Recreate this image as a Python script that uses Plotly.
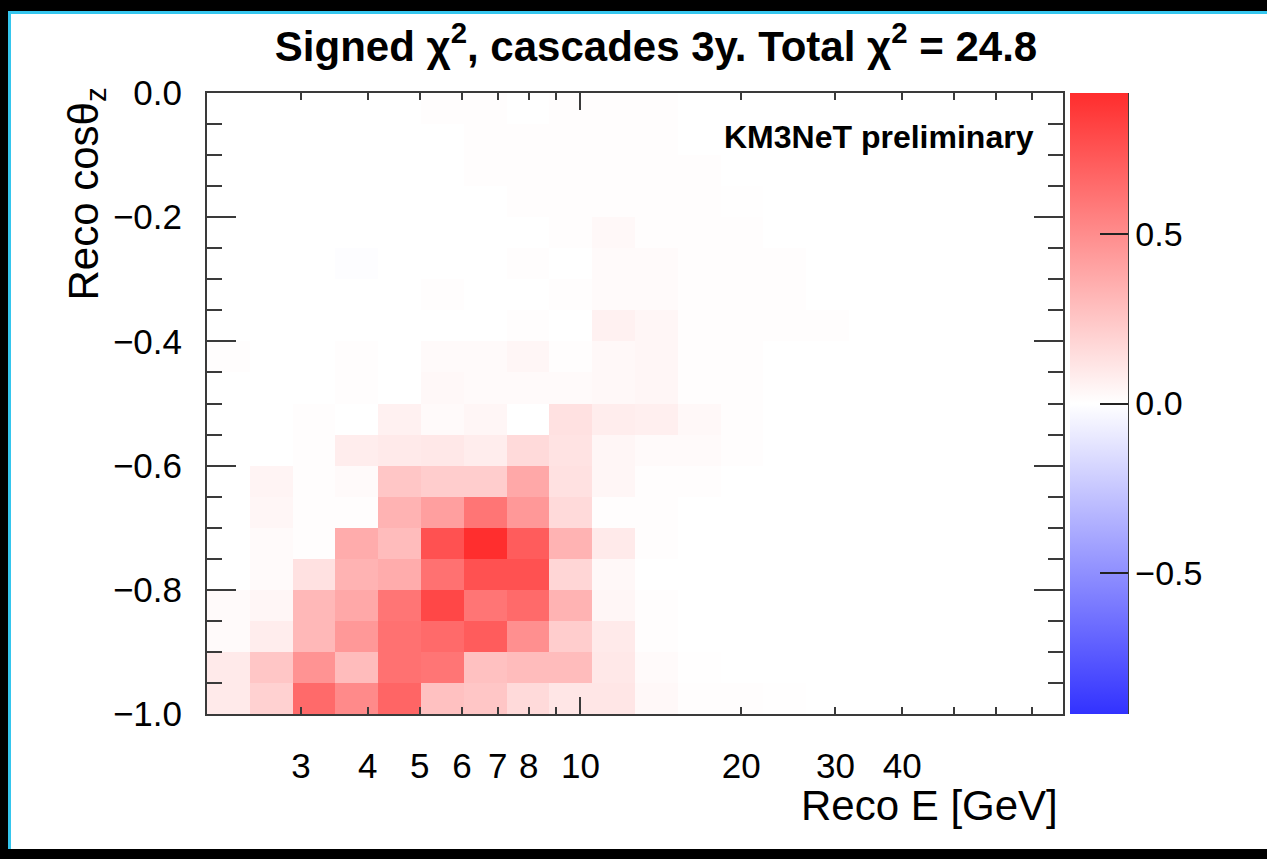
import numpy as np
import plotly.graph_objects as go

# ---- binning: 20 log-spaced energy bins (2-80 GeV) x 20 cos(theta) bins ----
E_MIN, E_MAX, N_E = 2.0, 80.0, 20
energy_edges = np.logspace(np.log10(E_MIN), np.log10(E_MAX), N_E + 1)
cos_edges = np.round(np.linspace(-1.0, 0.0, 21), 3)

# ---- signed chi2 per bin; rows from cos = -1.0 (bottom) up to 0.0 ----
signed_chi2 = [
    [0.09, 0.20, 0.65, 0.51, 0.67, 0.27, 0.25, 0.16, 0.11, 0.11, 0.03, 0.01, 0.01, 0.005, 0, 0, 0, 0, 0, 0],
    [0.09, 0.25, 0.47, 0.29, 0.62, 0.60, 0.27, 0.29, 0.29, 0.10, 0.02, 0.005, 0, 0, 0, 0, 0, 0, 0, 0],
    [0.02, 0.08, 0.31, 0.45, 0.62, 0.65, 0.71, 0.49, 0.22, 0.09, 0.01, 0, 0, 0, 0, 0, 0, 0, 0, 0],
    [0.02, 0.04, 0.31, 0.38, 0.60, 0.80, 0.60, 0.65, 0.33, 0.04, 0.01, 0, 0, 0, 0, 0, 0, 0, 0, 0],
    [0, 0.02, 0.13, 0.33, 0.36, 0.62, 0.76, 0.76, 0.18, 0.03, 0, 0, 0, 0, 0, 0, 0, 0, 0, 0],
    [0, 0.02, 0.01, 0.36, 0.29, 0.76, 0.91, 0.71, 0.33, 0.09, 0.01, 0, 0, 0, 0, 0, 0, 0, 0, 0],
    [0, 0.04, 0.01, 0.01, 0.33, 0.42, 0.60, 0.45, 0.16, 0.01, 0.01, 0, 0, 0, 0, 0, 0, 0, 0, 0],
    [0, 0.05, 0.01, 0.02, 0.25, 0.22, 0.22, 0.38, 0.13, 0.04, 0.01, 0.01, 0, 0, 0, 0, 0, 0, 0, 0],
    [0, 0, 0.01, 0.08, 0.09, 0.10, 0.08, 0.16, 0.12, 0.04, 0.02, 0.02, 0.01, 0, 0, 0, 0, 0, 0, 0],
    [0, 0, 0.01, 0, 0.06, 0.02, 0.04, 0, 0.13, 0.08, 0.07, 0.03, 0.01, 0, 0, 0, 0, 0, 0, 0],
    [0, 0, 0, 0.01, 0, 0.03, 0.02, 0.02, 0.02, 0.03, 0.04, 0.01, 0.01, 0, 0, 0, 0, 0, 0, 0],
    [0.01, 0, 0, 0.01, 0, 0.02, 0.02, 0.04, 0.01, 0.03, 0.04, 0.01, 0.01, 0, 0, 0, 0, 0, 0, 0],
    [0, 0, 0, 0, 0, 0, 0, 0.01, 0, 0.06, 0.04, 0.01, 0.01, 0.01, 0.01, 0, 0, 0, 0, 0],
    [0, 0, 0, 0, 0, 0.01, 0, 0, 0.01, 0.02, 0.02, 0.01, 0.01, 0.01, 0, 0, 0, 0, 0, 0],
    [0, 0, 0, -0.01, 0, 0, 0, 0.01, 0, 0.02, 0.02, 0.01, 0.01, 0.01, 0, 0, 0, 0, 0, 0],
    [0, 0, 0, 0, 0, 0, 0, 0, 0.01, 0.03, 0.01, 0.01, 0.01, 0, 0, 0, 0, 0, 0, 0],
    [0, 0, 0, 0, 0, 0, 0, 0.01, 0.01, 0.01, 0.01, 0.01, 0.005, 0, 0, 0, 0, 0, 0, 0],
    [0, 0, 0, 0, 0, 0, 0.01, 0.01, 0.01, 0.01, 0.01, 0.01, 0, 0, 0, 0, 0, 0, 0, 0],
    [0, 0, 0, 0, 0, 0, 0.01, 0.01, 0.01, 0.01, 0.01, 0, 0, 0, 0, 0, 0, 0, 0, 0],
    [0, 0, 0, 0, 0, 0.01, 0.01, 0, 0.01, 0.01, 0.01, 0, 0, 0, 0, 0, 0, 0, 0, 0],
]

x_label_vals = [3, 4, 5, 6, 7, 8, 10, 20, 30, 40]
x_unlabeled_vals = [9, 50, 60, 70]
z_limit = 0.915
total_chi2 = 24.8

# ---- page geometry (pixels) ----
W, H = 1267, 859
L, R, T, B = 207, 1063, 93, 714
PW, PH = R - L, B - T


def px(xp):
    return (xp - L) / PW


def py(yp):
    return (B - yp) / PH


FONT = "Liberation Sans, Arial, Helvetica, sans-serif"
AX = "#3a3a3a"

fig = go.Figure()
fig.add_trace(go.Heatmap(
    x=energy_edges, y=cos_edges, z=signed_chi2,
    zmin=-z_limit, zmax=z_limit,
    colorscale=[[0.0, "rgb(50,50,255)"], [0.5, "rgb(255,255,255)"], [1.0, "rgb(255,45,45)"]],
    colorbar=dict(
        x=px(1070), xanchor="left", xpad=0, ypad=0,
        y=0.5, yanchor="middle", len=1, lenmode="fraction",
        thickness=58, thicknessmode="pixels",
        outlinewidth=0,
        tickvals=[-0.5, 0.0, 0.5], tickformat=".1f",
        ticks="inside", ticklen=28, tickwidth=2, tickcolor="#222",
        tickfont=dict(family=FONT, size=34, color="black"),
    ),
    hoverinfo="skip",
))
# companion axes: long decade tick at 10 GeV, and short unlabelled ticks
fig.add_trace(go.Scatter(x=[], y=[], xaxis="x2", yaxis="y", showlegend=False, hoverinfo="skip"))
fig.add_trace(go.Scatter(x=[], y=[], xaxis="x3", yaxis="y", showlegend=False, hoverinfo="skip"))

xrange_log = [np.log10(E_MIN), np.log10(E_MAX)]
companion = dict(
    type="log", range=xrange_log, overlaying="x", anchor="y",
    tickmode="array", ticks="inside", tickwidth=2, tickcolor=AX, mirror="ticks",
    showline=False, showticklabels=False, showgrid=False, zeroline=False,
)
fig.update_layout(
    width=W, height=H,
    margin=dict(l=L, r=W - R, t=T, b=H - B, autoexpand=False),
    paper_bgcolor="black", plot_bgcolor="white",
    font=dict(family=FONT, color="black"),
    showlegend=False,
    xaxis=dict(
        type="log", range=xrange_log,
        tickmode="array", tickvals=x_label_vals, ticktext=[str(v) for v in x_label_vals],
        ticks="inside", ticklen=7, tickwidth=2, tickcolor=AX,
        showline=True, linecolor=AX, linewidth=2, mirror="ticks",
        showgrid=False, zeroline=False,
        tickfont=dict(family=FONT, size=35, color="black"),
        ticklabelstandoff=20,
    ),
    xaxis2=dict(companion, tickvals=[10], ticklen=17),
    xaxis3=dict(companion, tickvals=x_unlabeled_vals, ticklen=7),
    yaxis=dict(
        range=[-1.0, 0.0],
        tickmode="linear", tick0=-1.0, dtick=0.2, tickformat=".1f",
        ticks="inside", ticklen=29, tickwidth=2, tickcolor=AX,
        minor=dict(dtick=0.05, tick0=-1.0, ticks="inside", ticklen=15, tickwidth=2, tickcolor=AX),
        showline=True, linecolor=AX, linewidth=2, mirror="ticks",
        showgrid=False, zeroline=False,
        tickfont=dict(family=FONT, size=35, color="black"),
        ticklabelstandoff=16,
    ),
    title=dict(
        text=f"<b>Signed χ<sup>2</sup>, cascades 3y. Total χ<sup>2</sup> = {total_chi2}</b>",
        x=px(656), xanchor="center", xref="paper",
        y=1 - 46 / H, yanchor="middle", yref="container",
        font=dict(family=FONT, size=42, color="black"),
    ),
)

# page frame: black surround with a cyan edge and a white panel
fig.add_shape(type="rect", xref="paper", yref="paper", layer="below",
              x0=px(8), x1=px(W + 5), y0=py(849), y1=py(11),
              fillcolor="#35c6ee", line=dict(width=0))
fig.add_shape(type="rect", xref="paper", yref="paper", layer="below",
              x0=px(11), x1=px(W + 5), y0=py(849), y1=py(14),
              fillcolor="white", line=dict(width=0))
# right-hand axis line of the colour bar
fig.add_shape(type="line", xref="paper", yref="paper",
              x0=px(1128), x1=px(1128), y0=0, y1=1,
              line=dict(color=AX, width=2))

fig.add_annotation(text="Reco E [GeV]", xref="paper", yref="paper",
                   x=px(1060), y=py(805), xanchor="right", yanchor="middle",
                   showarrow=False, font=dict(family=FONT, size=42, color="black"))
fig.add_annotation(text="Reco cosθ<sub>z</sub>", xref="paper", yref="paper",
                   x=px(86), y=py(86), xanchor="center", yanchor="top", textangle=-90,
                   showarrow=False, font=dict(family=FONT, size=42, color="black"))
fig.add_annotation(text="<b>KM3NeT preliminary</b>", xref="paper", yref="paper",
                   x=px(1036), y=py(137), xanchor="right", yanchor="middle",
                   showarrow=False, font=dict(family=FONT, size=32, color="black"))

fig.write_html("out.html")
